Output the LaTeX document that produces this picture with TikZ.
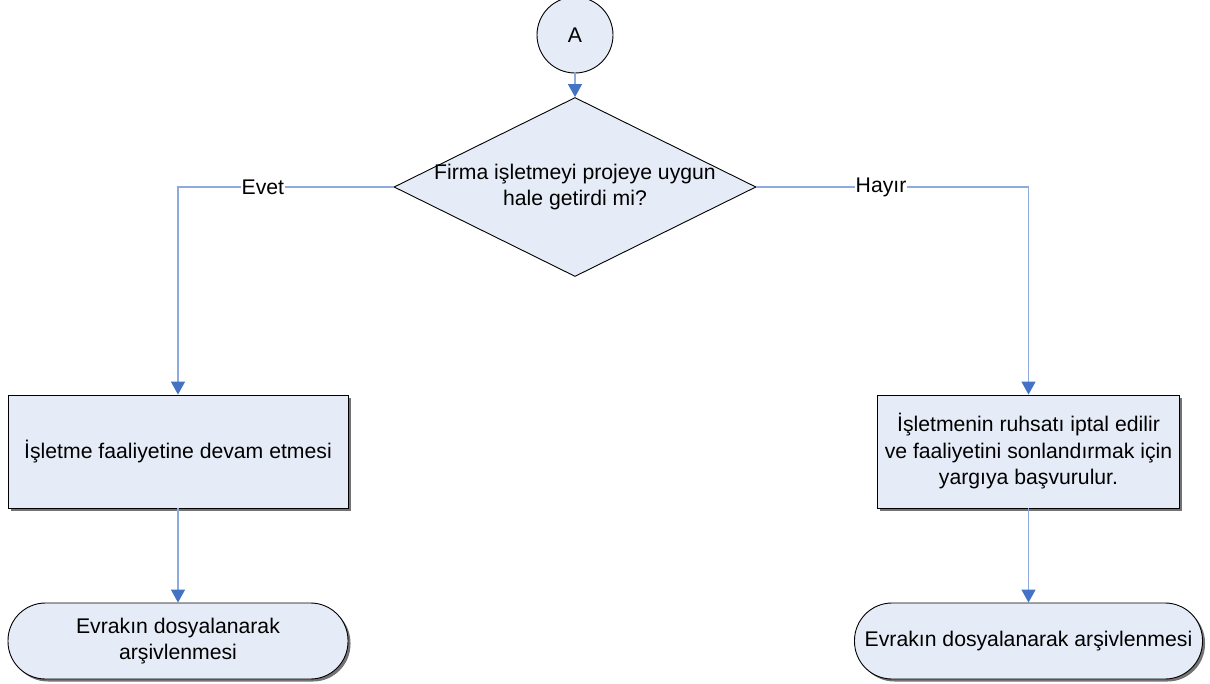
\documentclass[tikz,border=0pt]{standalone}
\usepackage{fontspec}
\setmainfont{Liberation Sans}
\usetikzlibrary{shapes.geometric,arrows.meta,shadows}
\definecolor{boxfill}{RGB}{230,236,247}
\definecolor{linecol}{RGB}{143,170,220}
\definecolor{tipcol}{RGB}{68,114,196}
\tikzset{
  every node/.style={font=\fontsize{21.2}{26.5}\selectfont, text=black},
  shp/.style={draw=black, line width=0.9pt, fill=boxfill},
  shad/.style={drop shadow={shadow xshift=2.5pt, shadow yshift=-2.5pt, fill=black!55, opacity=1}},
  procbox/.style={shp, shad, rectangle, minimum height=113pt, align=center, inner sep=2pt},
  termbox/.style={shp, shad, rectangle, rounded corners=37.5pt, minimum height=76pt, align=center},
  conn/.style={draw=linecol, line width=1.4pt, -{Triangle[color=tipcol, width=14pt, length=13pt]}},
  lbl/.style={fill=white, inner sep=1pt}
}
\begin{document}
\begin{tikzpicture}[x=1pt, y=-1pt]
\useasboundingbox (0,0) rectangle (1210,683);
\node[shp, circle, minimum size=76pt, inner sep=0pt] (A) at (575,35) {A};
\node[shp, diamond, minimum width=362pt, minimum height=179pt, inner sep=0pt,
      label={[align=center]center:Firma işletmeyi projeye uygun\\hale getirdi mi?}] (dia) at (575,187) {};
\node[procbox, minimum width=340pt] (lbox) at (178,451.5) {İşletme faaliyetine devam etmesi};
\node[procbox, minimum width=302pt] (rbox) at (1028.5,451.5) {İşletmenin ruhsatı iptal edilir\\ve faaliyetini sonlandırmak için\\yargıya başvurulur.};
\node[termbox, minimum width=340pt] (lend) at (178,641) {Evrakın dosyalanarak\\arşivlenmesi};
\node[termbox, minimum width=348pt] (rend) at (1028.5,641) {Evrakın dosyalanarak arşivlenmesi};

\draw[conn] (A) -- (dia);
\draw[conn] (dia.west) -| node[lbl, pos=0.303] (evet) {Evet} (lbox.north);
\draw[conn] (dia.east) -| node[lbl, pos=0.229] (hayir) {Hayır} (rbox.north);
\draw[conn] (lbox) -- (lend);
\draw[conn] (rbox) -- (rend);
\end{tikzpicture}
\end{document}
